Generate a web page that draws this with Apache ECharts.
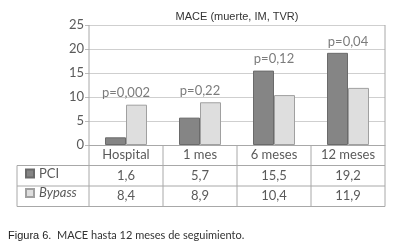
<!DOCTYPE html>
<html>
<head>
<meta charset="utf-8">
<script src="https://cdn.jsdelivr.net/npm/echarts@6/dist/echarts.min.js"></script>
<style>
  html, body { margin: 0; padding: 0; background: #fff; }
  #chart { width: 400px; height: 249px; }
</style>
</head>
<body>
<div id="chart"></div>
<script>
// datos
const categories = ['Hospital', '1 mes', '6 meses', '12 meses']
const pciValues = [1.6, 5.7, 15.5, 19.2]
const bypassValues = [8.4, 8.9, 10.4, 11.9]
const pValues = ['p=0,002', 'p=0,22', 'p=0,12', 'p=0,04']
const yTicks = [0, 5, 10, 15, 20, 25]

const FONT = 'Lato, "DejaVu Sans", sans-serif'
const TXT = '#5a5a5a'

// geometría de la rejilla (px)
const G = { left: 89, right: 385, top: 25, bottom: 145 }
const ROW = [145, 165.5, 186, 206.5]
const TABLE_LEFT = 17

const fmt = v => v.toFixed(1).replace('.', ',')

const chart = echarts.init(document.getElementById('chart'))

// líneas de la tabla
const lines = []
const line = (x1, y1, x2, y2) => lines.push({
  type: 'line',
  shape: { x1, y1, x2, y2 },
  style: { stroke: '#a8a8a8', lineWidth: 1 },
  z: 10
})
const colW = (G.right - G.left) / categories.length
line(G.left, G.top, G.left, ROW[3])
line(G.right, G.top, G.right, ROW[3])
for (let i = 1; i < categories.length; i++) {
  line(G.left + colW * i, ROW[0], G.left + colW * i, ROW[3])
}
line(TABLE_LEFT, ROW[1], TABLE_LEFT, ROW[3])
line(TABLE_LEFT, ROW[1], G.right, ROW[1])
line(TABLE_LEFT, ROW[2], G.right, ROW[2])
line(TABLE_LEFT, ROW[3], G.right, ROW[3])

const option = {
  backgroundColor: '#ffffff',
  animation: false,
  title: {
    text: 'MACE (muerte, IM, TVR)',
    left: 232,
    top: 6,
    textAlign: 'center',
    textStyle: { fontFamily: '"Liberation Sans", Arial, sans-serif', fontSize: 11, fontWeight: 'normal', color: '#333' }
  },
  legend: {
    orient: 'vertical',
    left: 25,
    top: 167,
    padding: 0,
    itemWidth: 8,
    itemHeight: 8,
    itemGap: 6.5,
    icon: 'rect',
    data: ['PCI', 'Bypass'],
    formatter: name => name === 'Bypass' ? '{i|' + name + '}' : '{n|' + name + '}',
    textStyle: {
      fontFamily: FONT, fontSize: 13, color: TXT,
      rich: {
        n: { fontFamily: FONT, fontSize: 13, color: TXT },
        i: { fontFamily: FONT, fontSize: 13, color: TXT, fontStyle: 'italic' }
      }
    }
  },
  grid: {
    left: G.left,
    right: 400 - G.right,
    top: G.top,
    bottom: 249 - G.bottom,
    containLabel: false
  },
  xAxis: {
    type: 'category',
    data: categories,
    axisTick: { show: false },
    axisLine: { lineStyle: { color: '#a8a8a8', width: 1 } },
    axisLabel: {
      margin: 0,
      interval: 0,
      fontFamily: FONT,
      fontSize: 13,
      color: TXT,
      lineHeight: 20.5,
      formatter: (value, idx) =>
        '{h|' + value + '}\n{v|' + fmt(pciValues[idx]) + '}\n{v|' + fmt(bypassValues[idx]) + '}',
      rich: {
        h: { fontFamily: FONT, fontSize: 13, color: TXT, lineHeight: 20.5 },
        v: { fontFamily: FONT, fontSize: 13, color: TXT, lineHeight: 20.5 }
      }
    }
  },
  yAxis: {
    type: 'value',
    min: yTicks[0],
    max: yTicks[yTicks.length - 1],
    interval: 5,
    axisLine: { show: false },
    axisTick: { show: true, length: 4, lineStyle: { color: '#bbb' } },
    axisLabel: { fontFamily: FONT, fontSize: 13, color: TXT, margin: 5 },
    splitLine: { lineStyle: { color: '#cfcfcf', width: 1 } }
  },
  series: [
    {
      name: 'PCI',
      type: 'bar',
      data: pciValues,
      barWidth: 21,
      barGap: '0%',
      itemStyle: { color: '#858585', borderColor: '#6a6a6a', borderWidth: 1 }
    },
    {
      name: 'Bypass',
      type: 'bar',
      data: bypassValues,
      barWidth: 21,
      itemStyle: { color: '#dedede', borderColor: '#a0a0a0', borderWidth: 1 }
    },
    {
      name: 'p',
      type: 'scatter',
      symbolSize: 0,
      data: categories.map((c, i) => Math.max(pciValues[i], bypassValues[i]) + 2.4),
      label: {
        show: true,
        position: 'inside',
        formatter: p => pValues[p.dataIndex],
        fontFamily: FONT,
        fontSize: 13,
        color: TXT
      },
      silent: true
    }
  ],
  graphic: lines.concat([
    {
      type: 'text',
      left: 8,
      top: 230,
      style: {
        text: '{a|Figura 6.}{b|  MACE hasta 12 meses de seguimiento.}',
        rich: {
          a: { fontFamily: '"Liberation Sans", Arial, sans-serif', fontSize: 11, fill: '#222' },
          b: { fontFamily: FONT, fontSize: 11, fill: '#333' }
        }
      }
    }
  ])
}

chart.setOption(option)
</script>
</body>
</html>
